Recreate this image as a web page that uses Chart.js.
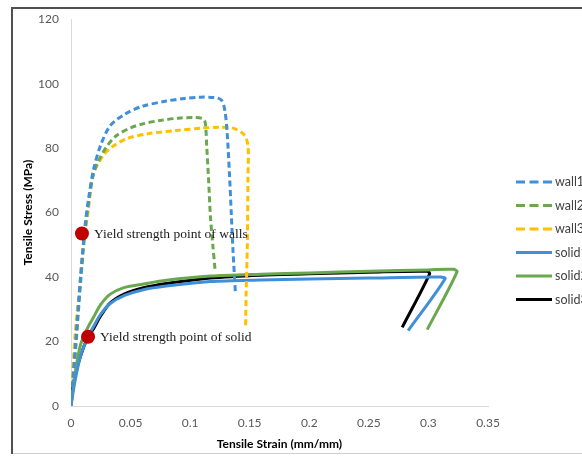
<!DOCTYPE html>
<html>
<head>
<meta charset="utf-8">
<script src="https://cdn.jsdelivr.net/npm/chart.js@4.4.1/dist/chart.umd.min.js"></script>
<style>
  html, body { margin: 0; padding: 0; background: #fff; overflow: hidden; }
  #wrap { position: absolute; left: 0; top: 0; width: 582px; height: 456px; }
</style>
</head>
<body>
<div id="wrap"><canvas id="c" width="582" height="456"></canvas></div>
<script>
// ---- data ----
const seriesNames = ['wall1', 'wall2', 'wall3', 'solid1', 'solid2', 'solid3'];

const wall1Strain = [0, 0.004, 0.008, 0.0118, 0.015, 0.019, 0.025, 0.033, 0.045, 0.06, 0.08, 0.095, 0.108, 0.12, 0.126, 0.129, 0.131, 0.133, 0.1345, 0.136, 0.138];
const wall1Stress = [0, 20, 40, 56, 65, 73.5, 81, 87, 90.5, 93, 94.6, 95.4, 95.8, 95.7, 95, 92, 85, 72, 60, 48, 35];

const wall2Strain = [0, 0.004, 0.008, 0.012, 0.0155, 0.0187, 0.023, 0.03, 0.0385, 0.05, 0.06, 0.075, 0.09, 0.1025, 0.11, 0.1126, 0.114, 0.1155, 0.117, 0.119, 0.121];
const wall2Stress = [0, 18, 38, 55, 65, 71.7, 76, 80.5, 84, 86.3, 87.5, 88.6, 89.3, 89.5, 89.2, 88, 80, 70, 59, 50, 42];

const wall3Strain = [0, 0.0034, 0.0076, 0.0098, 0.0146, 0.0188, 0.027, 0.035, 0.047, 0.065, 0.089, 0.11, 0.125, 0.136, 0.1447, 0.1485, 0.1485, 0.148, 0.147, 0.1465];
const wall3Stress = [0, 22, 38, 48, 61, 72, 77.7, 80.5, 83, 84.5, 85.5, 86.2, 86.5, 86.2, 84.4, 81, 70, 50, 35, 24];

const solid1Strain = [0, 0.003, 0.008, 0.0143, 0.0187, 0.025, 0.033, 0.045, 0.06, 0.08, 0.117, 0.159, 0.2, 0.25, 0.31, 0.314, 0.283];
const solid1Stress = [0, 7, 15.5, 21.5, 24.5, 28.5, 31.8, 34.3, 36, 37.2, 38.6, 39.1, 39.4, 39.7, 40, 39.5, 23.4];

const solid2Strain = [0, 0.003, 0.008, 0.0143, 0.0187, 0.025, 0.033, 0.045, 0.06, 0.08, 0.117, 0.159, 0.2, 0.25, 0.3, 0.321, 0.324, 0.299];
const solid2Stress = [0, 9, 19, 24.5, 27.4, 31.5, 34.7, 36.8, 37.8, 39, 40.3, 40.9, 41.3, 41.8, 42.2, 42.4, 41.6, 23.7];

const solid3Strain = [0, 0.002, 0.0076, 0.0143, 0.0187, 0.025, 0.033, 0.045, 0.06, 0.08, 0.117, 0.159, 0.2, 0.25, 0.299, 0.301, 0.278];
const solid3Stress = [0, 7, 15, 21.5, 23.8, 28, 32, 34.8, 36.6, 38, 39.7, 40.6, 41, 41.5, 41.8, 41, 24.4];

const yieldStrain = [0.0092, 0.0143];
const yieldStress = [53.5, 21.5];
const yieldLabels = ['Yield strength point of walls', 'Yield strength point of solid'];

const xTickValues = [0, 0.05, 0.1, 0.15, 0.2, 0.25, 0.3, 0.35];
const xTickLabels = ['0', '0.05', '0.1', '0.15', '0.2', '0.25', '0.3', '0.35'];
const yTickLabels = ['0', '20', '40', '60', '80', '100', '120'];

const xTitle = 'Tensile Strain (mm/mm)';
const yTitle = 'Tensile Stress (MPa)';

// ---- build datasets ----
function pts(xs, ys) { return xs.map((x, i) => ({ x: x, y: ys[i] })); }

const colors = ['#3F8FDA', '#6AA84F', '#FFC000', '#3F8FDA', '#6AA84F', '#000000'];
const dashes = [[6, 3.5], [6, 3.5], [6, 3.5], [], [], []];
const seriesData = [
  pts(wall1Strain, wall1Stress),
  pts(wall2Strain, wall2Stress),
  pts(wall3Strain, wall3Stress),
  pts(solid1Strain, solid1Stress),
  pts(solid2Strain, solid2Stress),
  pts(solid3Strain, solid3Stress)
];

const datasets = seriesNames.map((name, i) => ({
  label: name,
  data: seriesData[i],
  showLine: true,
  borderColor: colors[i],
  backgroundColor: colors[i],
  borderWidth: 3,
  borderDash: dashes[i],
  pointRadius: 0,
  pointHoverRadius: 0,
  tension: 0.3,
  fill: false,
  order: 2
}));

datasets.push({
  label: 'yield',
  data: pts(yieldStrain, yieldStress),
  showLine: false,
  pointRadius: 7,
  pointBackgroundColor: '#C00000',
  pointBorderColor: '#C00000',
  pointBorderWidth: 0,
  order: 0
});

// ---- plugins ----
const framePlugin = {
  id: 'frame',
  beforeDraw(chart) {
    const ctx = chart.ctx;
    ctx.save();
    ctx.fillStyle = '#ffffff';
    ctx.fillRect(0, 0, chart.width, chart.height);
    ctx.strokeStyle = '#D0D0D0';
    ctx.lineWidth = 1;
    ctx.beginPath();
    ctx.moveTo(12, 453.5); ctx.lineTo(chart.width, 453.5);
    ctx.stroke();
    ctx.strokeStyle = '#505050';
    ctx.lineWidth = 2;
    ctx.beginPath();
    ctx.moveTo(12, 454); ctx.lineTo(12, 8); ctx.lineTo(chart.width, 8);
    ctx.stroke();
    ctx.restore();
  }
};

const yieldTextPlugin = {
  id: 'yieldText',
  afterDatasetsDraw(chart) {
    const ctx = chart.ctx;
    const xs = chart.scales.x, ys = chart.scales.y;
    ctx.save();
    ctx.fillStyle = '#1a1a1a';
    ctx.font = '13.5px "Liberation Serif", "Times New Roman", serif';
    ctx.textBaseline = 'middle';
    ctx.textAlign = 'left';
    for (let i = 0; i < yieldLabels.length; i++) {
      const px = xs.getPixelForValue(yieldStrain[i]);
      const py = ys.getPixelForValue(yieldStress[i]);
      ctx.fillText(yieldLabels[i], px + 12, py + 1);
    }
    ctx.restore();
  }
};

const legendPlugin = {
  id: 'customLegend',
  afterDraw(chart) {
    const ctx = chart.ctx;
    ctx.save();
    const x0 = 516, x1 = 552, tx = 555, y0 = 182, dy = 23.5;
    ctx.font = '12.5px Lato, "Open Sans", sans-serif';
    ctx.textBaseline = 'middle';
    ctx.textAlign = 'left';
    for (let i = 0; i < seriesNames.length; i++) {
      const y = y0 + i * dy;
      ctx.strokeStyle = colors[i];
      ctx.lineWidth = 3;
      ctx.setLineDash(dashes[i].length ? [9, 4.5] : []);
      ctx.beginPath();
      ctx.moveTo(x0, y); ctx.lineTo(x1, y);
      ctx.stroke();
      ctx.setLineDash([]);
      ctx.fillStyle = '#404040';
      ctx.fillText(seriesNames[i], tx, y);
    }
    ctx.restore();
  }
};

// ---- chart ----
new Chart(document.getElementById('c'), {
  type: 'scatter',
  data: { datasets: datasets },
  plugins: [framePlugin, yieldTextPlugin, legendPlugin],
  options: {
    responsive: false,
    animation: false,
    events: [],
    layout: { padding: { left: 0, top: 16, right: 94, bottom: 0 } },
    plugins: {
      legend: { display: false },
      tooltip: { enabled: false },
      title: { display: false }
    },
    scales: {
      x: {
        type: 'linear',
        min: 0,
        max: 0.35,
        afterFit(scale) { scale.height = 50; },
        afterBuildTicks(scale) { scale.ticks = xTickValues.map(v => ({ value: v })); },
        grid: { display: false, drawTicks: false },
        border: { display: true, color: '#D9D9D9', width: 1 },
        ticks: {
          padding: 10,
          color: '#595959',
          font: { family: 'Lato, "Open Sans", sans-serif', size: 12 },
          maxRotation: 0,
          callback(v) { const k = xTickValues.indexOf(v); return k >= 0 ? xTickLabels[k] : ''; }
        },
        title: {
          display: true,
          text: xTitle,
          color: '#000',
          font: { family: 'Lato, "Open Sans", sans-serif', size: 12, weight: 'bold' },
          padding: { top: 0, bottom: 5 }
        }
      },
      y: {
        type: 'linear',
        min: 0,
        max: 120,
        afterFit(scale) { scale.width = 71; },
        grid: { display: false, drawTicks: false },
        border: { display: true, color: '#D9D9D9', width: 1 },
        ticks: {
          stepSize: 20,
          padding: 12,
          color: '#595959',
          font: { family: 'Lato, "Open Sans", sans-serif', size: 12 },
          callback(v) { const k = yTickLabels.indexOf(String(v)); return k >= 0 ? yTickLabels[k] : ''; }
        },
        title: {
          display: true,
          text: yTitle,
          color: '#000',
          font: { family: 'Lato, "Open Sans", sans-serif', size: 12, weight: 'bold' },
          padding: { top: 21, bottom: 0 }
        }
      }
    }
  }
});
</script>
</body>
</html>
